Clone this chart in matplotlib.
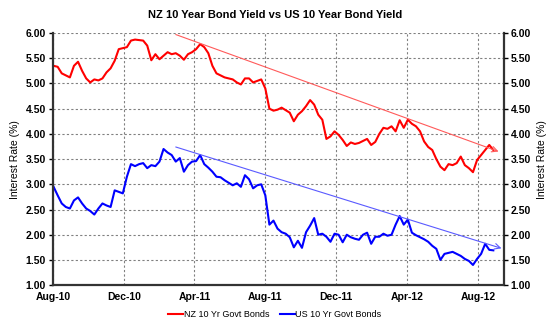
import matplotlib
matplotlib.use("Agg")
import matplotlib.pyplot as plt
import matplotlib.dates as mdates
import pandas as pd

plt.rcParams['font.family'] = ['Liberation Sans', 'DejaVu Sans']

# weekly closes, starting first week of Aug 2010
start_date = "2010-08-02"

nz_yield = [
    5.35, 5.33, 5.20, 5.16, 5.12, 5.35, 5.43, 5.25, 5.10, 5.02,
    5.08, 5.06, 5.10, 5.22, 5.30, 5.45, 5.68, 5.70, 5.72, 5.85,
    5.87, 5.86, 5.85, 5.75, 5.46, 5.58, 5.48, 5.55, 5.62, 5.58,
    5.60, 5.55, 5.47, 5.58, 5.62, 5.68, 5.78, 5.72, 5.60, 5.35,
    5.20, 5.16, 5.12, 5.10, 5.08, 5.02, 4.98, 5.10, 5.10, 5.02,
    5.05, 5.08, 4.90, 4.50, 4.46, 4.48, 4.52, 4.47, 4.42, 4.25,
    4.38, 4.45, 4.55, 4.67, 4.58, 4.38, 4.28, 3.90, 3.95, 4.05,
    3.98, 3.88, 3.76, 3.83, 3.80, 3.82, 3.86, 3.90, 3.78, 3.84,
    4.00, 4.12, 4.10, 4.15, 4.05, 4.27, 4.12, 4.28, 4.20, 4.15,
    4.05, 3.85, 3.74, 3.68, 3.50, 3.35, 3.28, 3.40, 3.38, 3.42,
    3.55, 3.38, 3.32, 3.24, 3.48, 3.58, 3.68, 3.78, 3.68,
]

us_yield = [
    2.95, 2.78, 2.62, 2.55, 2.52, 2.68, 2.74, 2.62, 2.52, 2.47,
    2.40, 2.52, 2.62, 2.58, 2.55, 2.88, 2.85, 2.82, 3.15, 3.40,
    3.36, 3.40, 3.42, 3.32, 3.38, 3.36, 3.45, 3.70, 3.63, 3.58,
    3.45, 3.52, 3.25, 3.38, 3.45, 3.46, 3.58, 3.40, 3.33, 3.25,
    3.15, 3.14, 3.08, 3.03, 2.98, 3.02, 2.95, 3.18, 3.10, 2.92,
    2.98, 3.00, 2.78, 2.20, 2.28, 2.12, 2.05, 2.02, 1.95, 1.75,
    1.88, 1.74, 2.05, 2.18, 2.33, 2.00, 2.02, 1.96, 1.86, 2.02,
    2.00, 1.85, 2.00, 1.95, 1.92, 1.90, 2.00, 2.04, 1.82, 1.96,
    1.96, 2.02, 1.98, 2.00, 2.20, 2.37, 2.20, 2.30, 2.04, 1.99,
    1.95, 1.91, 1.86, 1.78, 1.72, 1.50, 1.62, 1.64, 1.66, 1.62,
    1.58, 1.52, 1.48, 1.40, 1.52, 1.62, 1.82, 1.70, 1.69,
]

# hand drawn trend lines (start, end)
nz_trend_dates = ["2011-02-28", "2012-09-05"]
nz_trend_vals = [5.97, 3.65]
us_trend_dates = ["2011-02-28", "2012-09-10"]
us_trend_vals = [3.74, 1.73]

tick_dates = ["2010-08-01", "2010-12-01", "2011-04-01", "2011-08-01",
              "2011-12-01", "2012-04-01", "2012-08-01"]

dates = pd.date_range(start_date, periods=len(nz_yield), freq="7D")

fig = plt.figure(figsize=(5.5, 3.27), dpi=100)
ax = fig.add_axes([0.0964, 0.128, 0.8196, 0.771])

ax.plot(dates, nz_yield, color="#ff0000", lw=1.5, label="NZ 10 Yr Govt Bonds")
ax.plot(dates, us_yield, color="#0000ff", lw=1.5, label="US 10 Yr Govt Bonds")

for d, v, c in [(nz_trend_dates, nz_trend_vals, "#ff5a5a"),
                (us_trend_dates, us_trend_vals, "#5a5aff")]:
    d = pd.to_datetime(d)
    ax.annotate("", xy=(d[1], v[1]), xytext=(d[0], v[0]),
                arrowprops=dict(arrowstyle="->", color=c, lw=0.8,
                                shrinkA=0, shrinkB=0))

ax.set_xlim(pd.Timestamp("2010-08-01"), pd.Timestamp("2012-09-14"))
ax.set_ylim(1, 6)
ax.set_yticks([1 + 0.5 * i for i in range(11)])
ax.yaxis.set_major_formatter(matplotlib.ticker.FormatStrFormatter("%.2f"))
ax.set_xticks(pd.to_datetime(tick_dates))
ax.xaxis.set_major_formatter(mdates.DateFormatter("%b-%y"))

ax.grid(True, color="#808080", linestyle=(0, (2, 2)), lw=0.8)
ax.spines["top"].set_visible(False)
for s in ["left", "bottom", "right"]:
    ax.spines[s].set_linewidth(1.6)
    ax.spines[s].set_color("#333333")

ax.tick_params(axis="y", length=3, width=1, labelsize=7.5, pad=2)
ax.tick_params(axis="x", length=0, labelsize=7.5, pad=5)
for lab in ax.get_xticklabels() + ax.get_yticklabels():
    lab.set_fontweight("bold")
ax.set_ylabel("Interest Rate (%)", fontsize=7.5, labelpad=4)

ax2 = ax.twinx()
ax2.set_ylim(ax.get_ylim())
ax2.set_yticks(ax.get_yticks())
ax2.yaxis.set_major_formatter(matplotlib.ticker.FormatStrFormatter("%.2f"))
ax2.tick_params(axis="y", length=3, width=1, labelsize=7.5, pad=2)
for lab in ax2.get_yticklabels():
    lab.set_fontweight("bold")
ax2.set_ylabel("Interest Rate (%)", fontsize=7.5, labelpad=4)
for s in ax2.spines.values():
    s.set_visible(False)

fig.text(0.5, 0.955, "NZ 10 Year Bond Yield vs US 10 Year Bond Yield",
         ha="center", va="center", fontsize=8, fontweight="bold")

fig.legend(loc="center", bbox_to_anchor=(0.5, 0.037), ncol=2, frameon=False,
           fontsize=6.5, handlelength=1.6, handletextpad=0.1, columnspacing=1.2)

fig.savefig("out.png", dpi=100)
